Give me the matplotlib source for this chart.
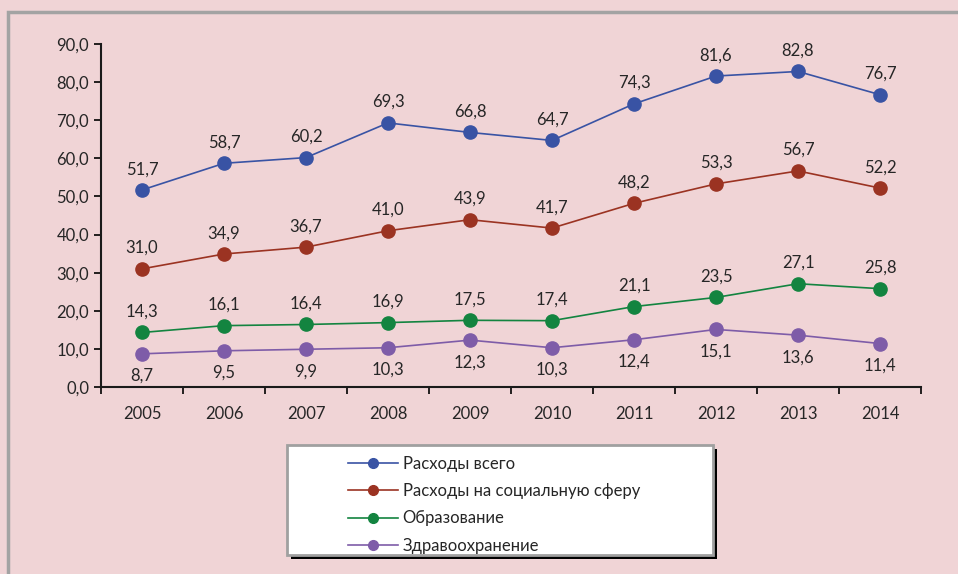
import matplotlib.pyplot as plt
from matplotlib.patches import Rectangle
from matplotlib.lines import Line2D

years = ['2005', '2006', '2007', '2008', '2009', '2010', '2011', '2012', '2013', '2014']
total = [51.7, 58.7, 60.2, 69.3, 66.8, 64.7, 74.3, 81.6, 82.8, 76.7]
social = [31.0, 34.9, 36.7, 41.0, 43.9, 41.7, 48.2, 53.3, 56.7, 52.2]
education = [14.3, 16.1, 16.4, 16.9, 17.5, 17.4, 21.1, 23.5, 27.1, 25.8]
health = [8.7, 9.5, 9.9, 10.3, 12.3, 10.3, 12.4, 15.1, 13.6, 11.4]

names = ['Расходы всего', 'Расходы на социальную сферу', 'Образование', 'Здравоохранение']
colors = ['#3953A4', '#9B3322', '#138440', '#7E5CA8']
series = [total, social, education, health]

plt.rcParams['font.family'] = ['Lato', 'DejaVu Sans']
bg = '#F0D4D6'
txt = '#262626'
fs = 12

fig = plt.figure(figsize=(9.58, 5.74), dpi=100, facecolor=bg)
ax = fig.add_axes([0.1054, 0.3258, 0.856, 0.5975])
ax.set_facecolor(bg)

# outer grey frame
fig.patches.append(Rectangle((8 / 958, -0.1), 1.2, (574 - 12) / 574 + 0.1,
                             transform=fig.transFigure, fill=False,
                             edgecolor='#A3A3A3', lw=2.5))

x = range(len(years))
for vals, c, name in zip(series, colors, names):
    ax.plot(x, vals, color=c, lw=1.2, marker='o', ms=9.5, label=name)
    below = vals is health
    for xi, v in zip(x, vals):
        ax.annotate(f'{v:.1f}'.replace('.', ','), (xi, v),
                    xytext=(0, -16 if below else 15), textcoords='offset points',
                    ha='center', va='center', fontsize=fs, color=txt)

ax.set_xlim(-0.5, len(years) - 0.5)
ax.set_ylim(0, 90)
ax.set_yticks(range(0, 91, 10))
ax.set_yticklabels([f'{v},0' for v in range(0, 91, 10)], fontsize=fs, color=txt)
ax.set_xticks([i - 0.5 for i in range(len(years) + 1)])
ax.set_xticklabels([])
ax.set_xticks(list(x), minor=True)
ax.set_xticklabels(years, minor=True, fontsize=fs, color=txt)
ax.tick_params(axis='x', which='minor', length=0, pad=14)
ax.tick_params(axis='x', which='major', length=5, width=1.2)
ax.tick_params(axis='y', length=5, width=1.2)
for s in ['top', 'right']:
    ax.spines[s].set_visible(False)
for s in ['left', 'bottom']:
    ax.spines[s].set_linewidth(1.5)
    ax.spines[s].set_color('#1a1a1a')

# legend box with shadow
lx, ly, lw_, lh = 287 / 958, 1 - 555 / 574, 426 / 958, 110 / 574
fig.patches.append(Rectangle((lx + 4 / 958, ly - 4 / 574), lw_, lh,
                             transform=fig.transFigure, facecolor='black', edgecolor='none'))
fig.patches.append(Rectangle((lx, ly), lw_, lh, transform=fig.transFigure,
                             facecolor='white', edgecolor='#A0A0A0', lw=2))
handles = [Line2D([], [], color=c, lw=1.2, marker='o', ms=7) for c in colors]
fig.legend(handles, names, loc='upper left', bbox_to_anchor=(341 / 958, 1 - 449 / 574),
           frameon=False, fontsize=fs, handlelength=3.0, handletextpad=0.3,
           labelspacing=0.68, borderaxespad=0, labelcolor=txt)

fig.savefig('out.png', dpi=100, facecolor=bg)
